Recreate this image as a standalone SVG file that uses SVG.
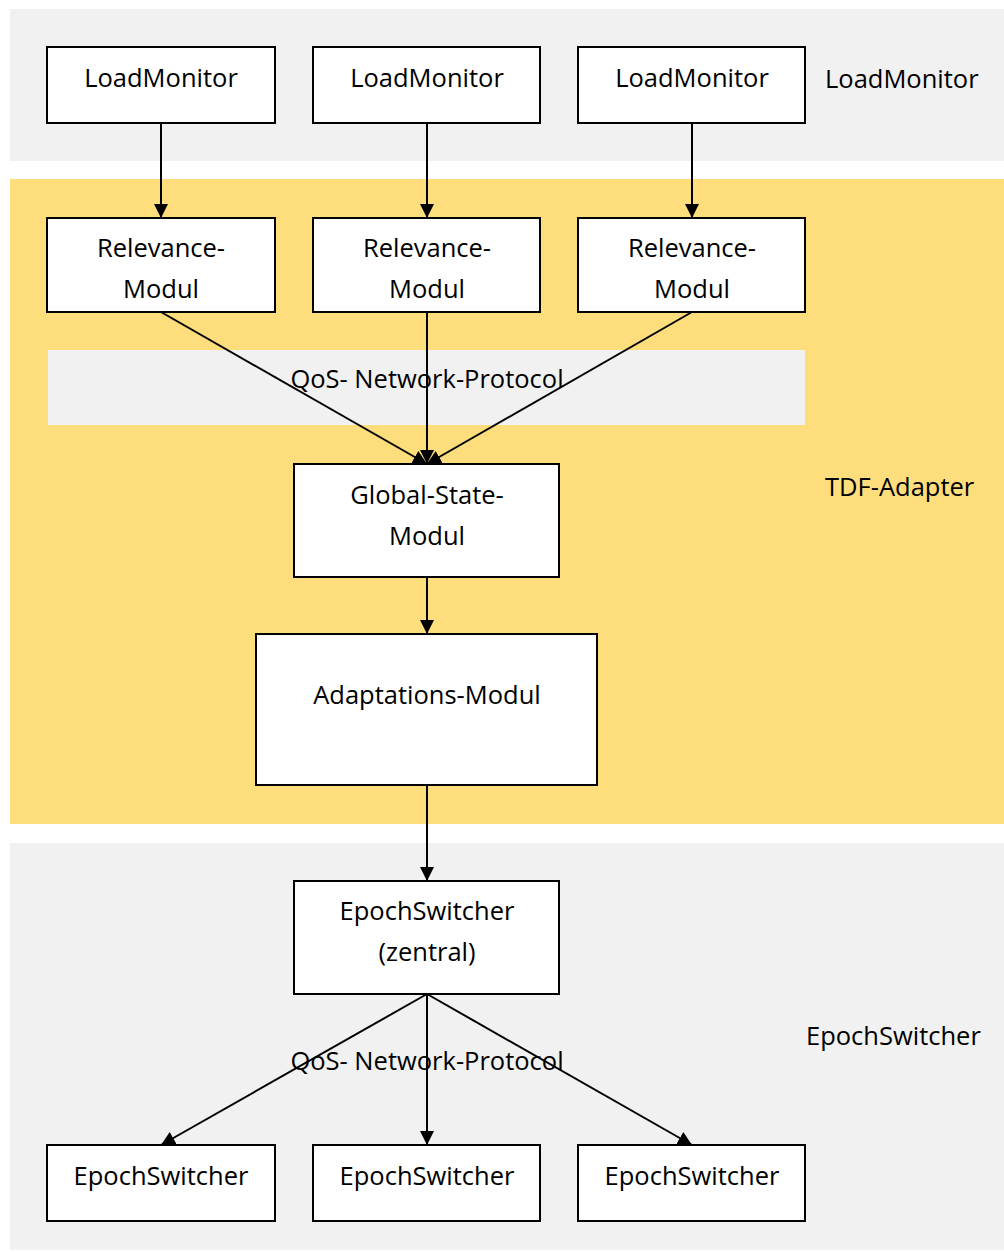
<svg xmlns="http://www.w3.org/2000/svg" width="1004" height="1252" viewBox="0 0 1004 1252">
  <defs>
    <marker id="arrow" markerWidth="14" markerHeight="14" refX="14" refY="7" orient="auto" markerUnits="userSpaceOnUse">
      <path d="M0,0 L14,7 L0,14 Z" fill="#000"/>
    </marker>
  </defs>
  <style>
    .band-gray { fill: #f1f1f1; }
    .band-yellow { fill: #fede7c; }
    .box { fill: #fff; stroke: #000; stroke-width: 2; }
    .lbl { font-family: "Open Sans", "Liberation Sans", sans-serif; font-size: 25.5px; fill: #000; text-anchor: middle; }
    .side { font-family: "Open Sans", "Liberation Sans", sans-serif; font-size: 25.5px; fill: #000; }
    .conn { stroke: #000; stroke-width: 2; fill: none; marker-end: url(#arrow); }
  </style>

  <!-- background layers -->
  <g id="layers">
    <rect class="band-gray" x="10" y="9" width="994" height="152"/>
    <rect class="band-yellow" x="10" y="179" width="994" height="645"/>
    <rect class="band-gray" x="10" y="843" width="994" height="407"/>
    <rect class="band-gray" x="48" y="350" width="757" height="75"/>
    <text class="side" x="825" y="88">LoadMonitor</text>
    <text class="side" x="825" y="496">TDF-Adapter</text>
    <text class="side" x="806" y="1045">EpochSwitcher</text>
  </g>

  <!-- connectors -->
  <g id="connectors">
    <line class="conn" x1="161" y1="123" x2="161" y2="218"/>
    <line class="conn" x1="427" y1="123" x2="427" y2="218"/>
    <line class="conn" x1="692" y1="123" x2="692" y2="218"/>
    <line class="conn" x1="161" y1="312" x2="427" y2="464"/>
    <line class="conn" x1="427" y1="312" x2="427" y2="464"/>
    <line class="conn" x1="692" y1="312" x2="427" y2="464"/>
    <line class="conn" x1="427" y1="577" x2="427" y2="634"/>
    <line class="conn" x1="427" y1="785" x2="427" y2="881"/>
    <line class="conn" x1="427" y1="994" x2="161" y2="1145"/>
    <line class="conn" x1="427" y1="994" x2="427" y2="1145"/>
    <line class="conn" x1="427" y1="994" x2="692" y2="1145"/>
    <text class="lbl" x="427" y="388">QoS- Network-Protocol</text>
    <text class="lbl" x="427" y="1070">QoS- Network-Protocol</text>
  </g>

  <!-- load monitors -->
  <g id="loadmonitor-1">
    <rect class="box" x="47" y="47" width="228" height="76"/>
    <text class="lbl" x="161" y="87">LoadMonitor</text>
  </g>
  <g id="loadmonitor-2">
    <rect class="box" x="313" y="47" width="227" height="76"/>
    <text class="lbl" x="427" y="87">LoadMonitor</text>
  </g>
  <g id="loadmonitor-3">
    <rect class="box" x="578" y="47" width="227" height="76"/>
    <text class="lbl" x="692" y="87">LoadMonitor</text>
  </g>

  <!-- relevance modules -->
  <g id="relevance-1">
    <rect class="box" x="47" y="218" width="228" height="94"/>
    <text class="lbl" x="161" y="257">Relevance-</text>
    <text class="lbl" x="161" y="298">Modul</text>
  </g>
  <g id="relevance-2">
    <rect class="box" x="313" y="218" width="227" height="94"/>
    <text class="lbl" x="427" y="257">Relevance-</text>
    <text class="lbl" x="427" y="298">Modul</text>
  </g>
  <g id="relevance-3">
    <rect class="box" x="578" y="218" width="227" height="94"/>
    <text class="lbl" x="692" y="257">Relevance-</text>
    <text class="lbl" x="692" y="298">Modul</text>
  </g>

  <g id="global-state">
    <rect class="box" x="294" y="464" width="265" height="113"/>
    <text class="lbl" x="427" y="504">Global-State-</text>
    <text class="lbl" x="427" y="545">Modul</text>
  </g>

  <g id="adaptations">
    <rect class="box" x="256" y="634" width="341" height="151"/>
    <text class="lbl" x="427" y="704">Adaptations-Modul</text>
  </g>

  <g id="epoch-central">
    <rect class="box" x="294" y="881" width="265" height="113"/>
    <text class="lbl" x="427" y="920">EpochSwitcher</text>
    <text class="lbl" x="427" y="961">(zentral)</text>
  </g>

  <g id="epoch-1">
    <rect class="box" x="47" y="1145" width="228" height="76"/>
    <text class="lbl" x="161" y="1185">EpochSwitcher</text>
  </g>
  <g id="epoch-2">
    <rect class="box" x="313" y="1145" width="227" height="76"/>
    <text class="lbl" x="427" y="1185">EpochSwitcher</text>
  </g>
  <g id="epoch-3">
    <rect class="box" x="578" y="1145" width="227" height="76"/>
    <text class="lbl" x="692" y="1185">EpochSwitcher</text>
  </g>
</svg>
